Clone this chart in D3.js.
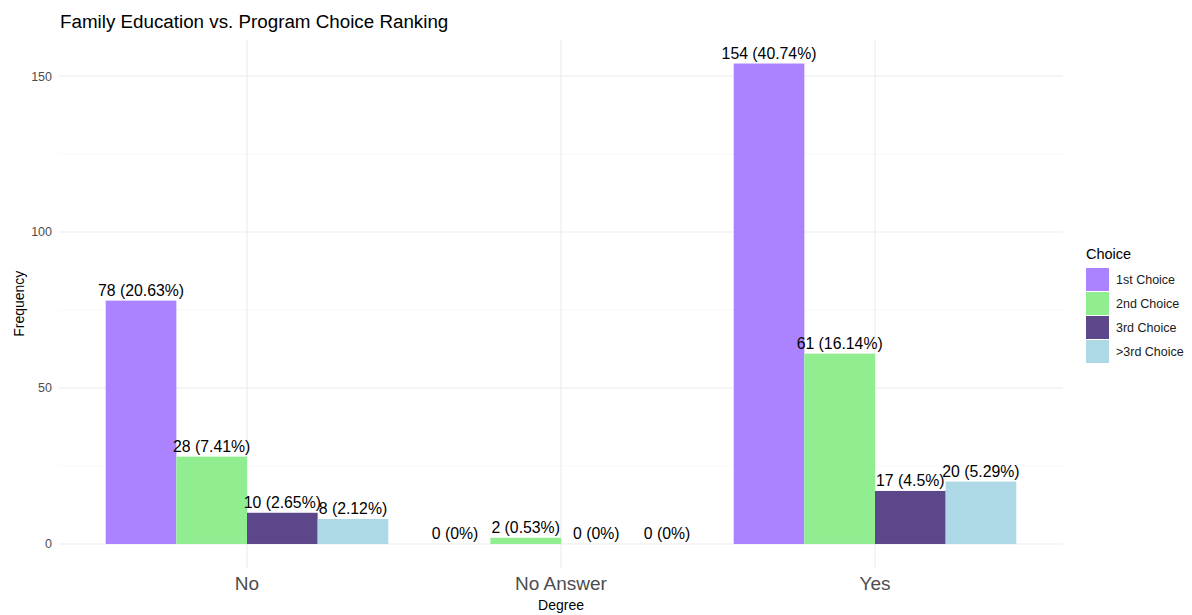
<!DOCTYPE html>
<html>
<head>
<meta charset="utf-8">
<script src="https://cdn.jsdelivr.net/npm/d3@7"></script>
<style>
  body { margin: 0; background: #fff; }
  text { font-family: "Liberation Sans", Arial, sans-serif; }
</style>
</head>
<body>
<script>
const degrees = ['No', 'No Answer', 'Yes'];
const choices = ['1st Choice', '2nd Choice', '3rd Choice', '>3rd Choice'];
const firstChoice = [78, 0, 154];
const secondChoice = [28, 2, 61];
const thirdChoice = [10, 0, 17];
const laterChoice = [8, 0, 20];
const yTicks = [0, 50, 100, 150];
const colors = ['#AB82FF', '#90EE90', '#5D478B', '#ADD8E6'];

const series = [firstChoice, secondChoice, thirdChoice, laterChoice];
const total = d3.sum(series.flat());
const rows = [];
degrees.forEach((deg, i) => {
  choices.forEach((ch, j) => rows.push({ degree: deg, choice: ch, n: series[j][i] }));
});

const W = 1192, H = 615;
const panel = { left: 59, right: 1063, top: 39.5, bottom: 568 };

const svg = d3.select('body').append('svg').attr('width', W).attr('height', H);

// ggplot-like discrete axis: 0.6 expansion each side
const x = d3.scalePoint().domain(degrees).range([247, 875]);
const step = x.step();
const bw = step * 0.9 / choices.length;
const maxN = d3.max(rows, d => d.n);
const y = d3.scaleLinear().domain([-0.05 * maxN, maxN * 1.05]).range([panel.bottom, panel.top]);

// grid
const grid = svg.append('g');
[25, 75, 125].forEach(v => grid.append('line')
  .attr('x1', panel.left).attr('x2', panel.right)
  .attr('y1', y(v)).attr('y2', y(v))
  .attr('stroke', '#f2f2f2').attr('stroke-width', 0.6));
yTicks.forEach(v => grid.append('line')
  .attr('x1', panel.left).attr('x2', panel.right)
  .attr('y1', y(v)).attr('y2', y(v))
  .attr('stroke', '#ebebeb').attr('stroke-width', 1.1));
degrees.forEach(d => grid.append('line')
  .attr('x1', x(d)).attr('x2', x(d))
  .attr('y1', panel.top).attr('y2', panel.bottom)
  .attr('stroke', '#ebebeb').attr('stroke-width', 1.1));

// bars
const barX = d => x(d.degree) - step * 0.45 + choices.indexOf(d.choice) * bw;
svg.append('g').selectAll('rect').data(rows).enter().append('rect')
  .attr('x', barX)
  .attr('y', d => y(d.n))
  .attr('width', bw)
  .attr('height', d => y(0) - y(d.n))
  .attr('fill', d => colors[choices.indexOf(d.choice)]);

// value labels
svg.append('g').selectAll('text').data(rows).enter().append('text')
  .attr('x', d => barX(d) + bw / 2)
  .attr('y', d => y(d.n) - 5)
  .attr('text-anchor', 'middle')
  .attr('font-size', 15.8)
  .attr('fill', '#000')
  .text(d => d.n + ' (' + (+(d.n / total * 100).toFixed(2)) + '%)');

// y axis labels
svg.append('g').selectAll('text').data(yTicks).enter().append('text')
  .attr('x', 52).attr('y', d => y(d) + 4.5)
  .attr('text-anchor', 'end')
  .attr('font-size', 12.5).attr('fill', '#4d4d4d')
  .text(d => d);

// x axis labels
svg.append('g').selectAll('text').data(degrees).enter().append('text')
  .attr('x', d => x(d)).attr('y', 590)
  .attr('text-anchor', 'middle')
  .attr('font-size', 19).attr('fill', '#4d4d4d')
  .text(d => d);

svg.append('text').attr('x', (panel.left + panel.right) / 2).attr('y', 610)
  .attr('text-anchor', 'middle').attr('font-size', 14).text('Degree');

svg.append('text')
  .attr('transform', 'translate(24,' + (panel.top + panel.bottom) / 2 + ') rotate(-90)')
  .attr('text-anchor', 'middle').attr('font-size', 14).text('Frequency');

svg.append('text').attr('x', 60).attr('y', 28).attr('font-size', 18.8)
  .text('Family Education vs. Program Choice Ranking');

// legend
const legend = svg.append('g').attr('transform', 'translate(1086,241)');
legend.append('text').attr('x', 0).attr('y', 18).attr('font-size', 14.5).text('Choice');
choices.forEach((c, i) => {
  legend.append('rect').attr('x', 0).attr('y', 27 + i * 24)
    .attr('width', 23).attr('height', 23).attr('fill', colors[i]);
  legend.append('text').attr('x', 30).attr('y', 43 + i * 24)
    .attr('font-size', 12.5).attr('fill', '#1a1a1a').text(c);
});
</script>
</body>
</html>
